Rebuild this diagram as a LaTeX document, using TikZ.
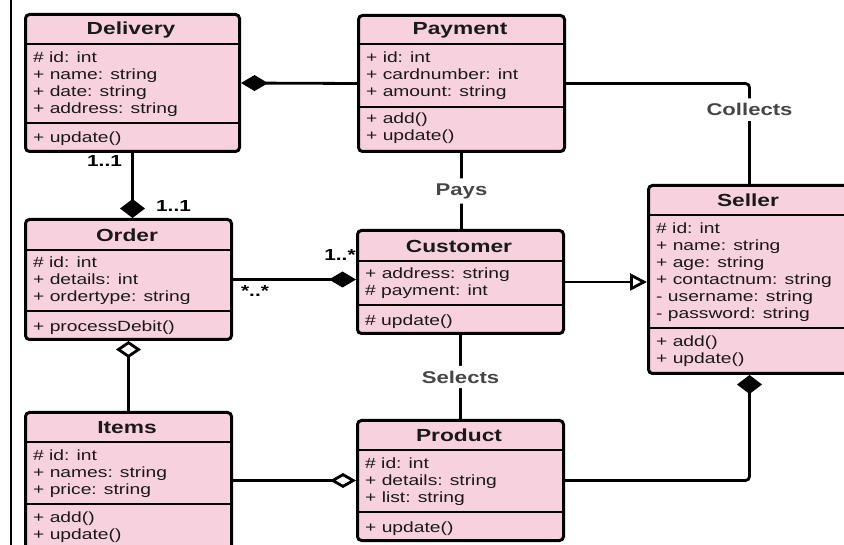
\documentclass[tikz,border=0pt]{standalone}
\usepackage{fontspec}
\setmainfont{Liberation Sans}[FakeStretch=1.3]
\usetikzlibrary{arrows.meta}
\definecolor{umlpink}{RGB}{247,209,222}
\definecolor{inkgrey}{RGB}{25,25,25}
\definecolor{verbgrey}{RGB}{70,70,70}
\tikzset{
  hcomp/.tip={Diamond[length=27pt,width=16pt]},
  vcomp/.tip={Diamond[length=19pt,width=25pt]},
  hagg/.tip={Diamond[open,length=26pt,width=15pt]},
  vagg/.tip={Diamond[open,length=17pt,width=25pt]},
  gen/.tip={Triangle[open,length=17pt,width=17pt]},
}
\begin{document}
\begin{tikzpicture}[x=1pt,y=-1pt,
  classbox/.style={draw,fill=umlpink,line width=3pt,rounded corners=4pt,anchor=north west,inner sep=0pt},
  sepline/.style={line width=2.6pt},
  classname/.style={font=\fontsize{17.5}{20}\selectfont\bfseries,text=inkgrey},
  members/.style={anchor=north west,inner sep=0pt,align=left,text=inkgrey,font=\fontsize{14.8}{17}\selectfont,execute at begin node=\strut},
  link/.style={line width=2.8pt,rounded corners=4pt},
  verb/.style={fill=white,text=verbgrey,font=\fontsize{17}{20}\selectfont\bfseries,inner sep=5pt},
  mult/.style={font=\fontsize{16}{19}\selectfont\bfseries,inner sep=0pt}]
\clip (0,0) rectangle (844,545);
\fill[white] (0,0) rectangle (844,545);
\draw[line width=2pt] (11,0) -- (11,545);
% classes
\begin{scope}[shift={(24,13)}]
\node[classbox,minimum width=214pt,minimum height=137pt] (delivery) at (0,0) {};
\node[classname] (deliveryname) at (107,16.5) {Delivery};
\draw[sepline] (0,31) -- (214,31) (0,110) -- (214,110);
\node[members] (deliveryattr) at (9,39) {\# id: int\\+ name: string\\+ date: string\\+ address: string};
\node[members] (deliveryops) at (9,117) {+ update()};
\end{scope}
\begin{scope}[shift={(357,14)}]
\node[classbox,minimum width=206pt,minimum height=136pt] (payment) at (0,0) {};
\node[classname] (paymentname) at (103,16) {Payment};
\draw[sepline] (0,30) -- (206,30) (0,93) -- (206,93);
\node[members] (paymentattr) at (9,38) {+ id: int\\+ cardnumber: int\\+ amount: string};
\node[members] (paymentops) at (9,99) {+ add()\\+ update()};
\end{scope}
\begin{scope}[shift={(647,184)}]
\node[classbox,minimum width=202pt,minimum height=188pt] (seller) at (0,0) {};
\node[classname] (sellername) at (101,16.5) {Seller};
\draw[sepline] (0,31) -- (202,31) (0,144) -- (202,144);
\node[members] (sellerattr) at (9,39) {\# id: int\\+ name: string\\+ age: string\\+ contactnum: string\\- username: string\\- password: string};
\node[members] (sellerops) at (9,152) {+ add()\\+ update()};
\end{scope}
\begin{scope}[shift={(24,218)}]
\node[classbox,minimum width=206pt,minimum height=120pt] (order) at (0,0) {};
\node[classname] (ordername) at (103,17) {Order};
\draw[sepline] (0,32) -- (206,32) (0,93) -- (206,93);
\node[members] (orderattr) at (9,39) {\# id: int\\+ details: int\\+ ordertype: string};
\node[members] (orderops) at (9,101) {+ processDebit()};
\end{scope}
\begin{scope}[shift={(356,229)}]
\node[classbox,minimum width=206pt,minimum height=103pt] (customer) at (0,0) {};
\node[classname] (customername) at (103,17) {Customer};
\draw[sepline] (0,32) -- (206,32) (0,76) -- (206,76);
\node[members] (customerattr) at (9,39) {+ address: string\\\# payment: int};
\node[members] (customerops) at (9,84) {\# update()};
\end{scope}
\begin{scope}[shift={(24,411)}]
\node[classbox,minimum width=206pt,minimum height=140pt] (items) at (0,0) {};
\node[classname] (itemsname) at (103,16.5) {Items};
\draw[sepline] (0,31) -- (206,31) (0,93) -- (206,93);
\node[members] (itemsattr) at (9,39) {\# id: int\\+ names: string\\+ price: string};
\node[members] (itemsops) at (9,101) {+ add()\\+ update()};
\end{scope}
\begin{scope}[shift={(356,419)}]
\node[classbox,minimum width=206pt,minimum height=120pt] (product) at (0,0) {};
\node[classname] (productname) at (103,16.5) {Product};
\draw[sepline] (0,31) -- (206,31) (0,93) -- (206,93);
\node[members] (productattr) at (9,39) {\# id: int\\+ details: string\\+ list: string};
\node[members] (productops) at (9,101) {+ update()};
\end{scope}
% relations
\draw[link,hcomp-] (delivery.east) -- (payment.west);
\draw[link] (payment.east) -| node[verb,pos=0.63] (collects) {Collects} (seller.north);
\draw[link] (payment.south) -- node[verb] (pays) {Pays} (payment.south |- customer.north);
\draw[link,-vcomp] (delivery.south) -- (delivery.south |- order.north)
  node[mult,at start,xshift=-28pt,yshift=-8pt] {1..1}
  node[mult,at end,xshift=41pt,yshift=12pt] {1..1};
\draw[link,-hcomp] (order.east) -- (order.east -| customer.west)
  node[mult,at start,xshift=22pt,yshift=-11pt] {*..*}
  node[mult,at end,xshift=-16pt,yshift=25pt] {1..*};
\draw[link,-gen] (customer.east) -- (customer.east -| seller.west);
\draw[link] (customer.south) -- node[verb] (selects) {Selects} (customer.south |- product.north);
\draw[link,vagg-] (order.south) -- (order.south |- items.north);
\draw[link,-hagg] (items.east |- product.west) -- (product.west);
\draw[link,-vcomp] (product.east) -| (seller.south);
\end{tikzpicture}
\end{document}
